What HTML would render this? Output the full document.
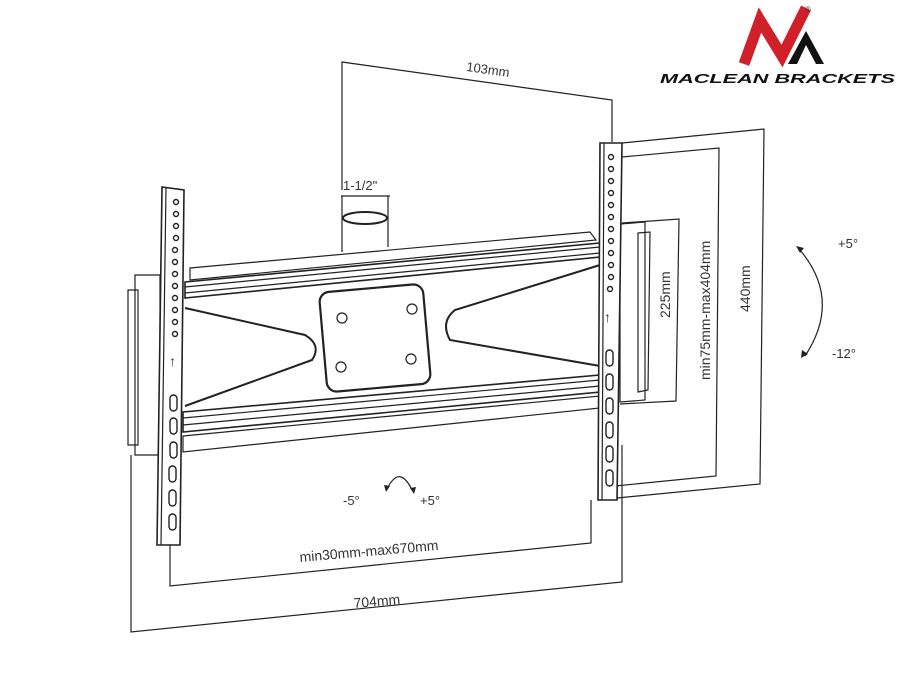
<!DOCTYPE html>
<html><head><style>
html,body{margin:0;padding:0;background:#fff;width:900px;height:675px;overflow:hidden}
svg{display:block}
text{font-family:"Liberation Sans",sans-serif;fill:#333}
</style></head><body>
<svg width="900" height="675" viewBox="0 0 900 675" xmlns="http://www.w3.org/2000/svg">
<g fill="none" stroke="#222" stroke-width="1.2">
<polyline points="342,190 342,62 612,100 612,142"/>
<polyline points="622,143 764,129 760,484 617,498"/>
<polyline points="622,157 719,148 716,476 615,486"/>
<polyline points="622,223 679,219 676,401 620,404"/>
<polyline points="170,545 170,586 591,543 591,500"/>
<polyline points="131,455 131,632 622,582 622,445"/>
<line x1="341" y1="196" x2="390" y2="196"/>
<line x1="342" y1="196" x2="342" y2="252"/>
<line x1="388" y1="196" x2="388" y2="247"/>
<ellipse cx="365" cy="218" rx="22" ry="6" stroke-width="2"/>
<path d="M135,275 L160,275 L160,455 L135,455 Z"/>
<path d="M128,290 L138,290 L138,445 L128,445 Z"/>
<path d="M620,224 L645,222 L645,400 L620,402 Z"/>
<path d="M638,233 L650,232 L648,390 L638,392 Z"/>
<path d="M190,268 L590,232 L596,240 L190,280 Z"/>
<path d="M185,282 L600,243 L600,257 L185,298 Z" stroke-width="1.6"/>
<line x1="185" y1="287" x2="600" y2="247"/>
<line x1="185" y1="293" x2="600" y2="253"/>
<path d="M183,412 L600,375 L600,392 L183,432 Z" stroke-width="1.6"/>
<line x1="183" y1="418" x2="600" y2="380"/>
<line x1="183" y1="425" x2="600" y2="386"/>
<path d="M183,436 L600,396 L600,408 L183,452 Z"/>
<path d="M185,308 L305,335 Q322,345 312,360 L185,406" stroke-width="2"/>
<path d="M600,265 L455,310 Q440,322 450,340 L600,366" stroke-width="2"/>
<rect x="323" y="288" width="104" height="100" rx="10" stroke-width="2.2" transform="rotate(-5 375 338)"/>
<circle cx="342" cy="318" r="5"/><circle cx="412" cy="309" r="5"/>
<circle cx="341" cy="367" r="5"/><circle cx="411" cy="359" r="5"/>
<path d="M162,187 L184,190 L180,545 L157,545 Z" fill="#fff" stroke-width="1.6"/>
<line x1="166" y1="188" x2="161" y2="545"/>
<path d="M600,143 L622,143 L617,500 L598,500 Z" fill="#fff" stroke-width="1.6"/>
<line x1="604" y1="143" x2="602" y2="500"/>
<path d="M800,250 Q842,300 805,356" />
<path d="M388,487 Q400,465 412,490"/>
</g>
<g fill="#222">
<path d="M796,246 l8,2 l-4,5z"/>
<path d="M801,358 l1,-8 l6,4z"/>
<path d="M386,492 l-2,-7 l6,1z"/>
<path d="M414,494 l-4,-6 l6,-1z"/>
</g>
<g fill="none" stroke="#222" stroke-width="1.4">
<circle cx="176" cy="202" r="2.5"/><circle cx="176" cy="214" r="2.5"/><circle cx="176" cy="226" r="2.5"/>
<circle cx="176" cy="238" r="2.5"/><circle cx="175" cy="250" r="2.5"/><circle cx="175" cy="262" r="2.5"/>
<circle cx="175" cy="274" r="2.5"/><circle cx="175" cy="286" r="2.5"/><circle cx="175" cy="298" r="2.5"/>
<circle cx="175" cy="310" r="2.5"/><circle cx="175" cy="322" r="2.5"/><circle cx="175" cy="334" r="2.5"/>
<rect x="170" y="395" width="7" height="16" rx="3.5"/><rect x="170" y="418" width="7" height="16" rx="3.5"/>
<rect x="170" y="442" width="7" height="16" rx="3.5"/><rect x="169" y="466" width="7" height="16" rx="3.5"/>
<rect x="169" y="490" width="7" height="16" rx="3.5"/><rect x="169" y="514" width="7" height="16" rx="3.5"/>
<circle cx="611" cy="157" r="2.5"/><circle cx="611" cy="169" r="2.5"/><circle cx="611" cy="181" r="2.5"/>
<circle cx="611" cy="193" r="2.5"/><circle cx="611" cy="205" r="2.5"/><circle cx="611" cy="217" r="2.5"/>
<circle cx="611" cy="229" r="2.5"/><circle cx="611" cy="241" r="2.5"/><circle cx="611" cy="253" r="2.5"/>
<circle cx="611" cy="265" r="2.5"/><circle cx="611" cy="277" r="2.5"/><circle cx="610" cy="289" r="2.5"/>
<rect x="606" y="350" width="7" height="16" rx="3.5"/><rect x="606" y="374" width="7" height="16" rx="3.5"/>
<rect x="606" y="398" width="7" height="16" rx="3.5"/><rect x="606" y="422" width="7" height="16" rx="3.5"/>
<rect x="606" y="446" width="7" height="16" rx="3.5"/><rect x="606" y="470" width="7" height="16" rx="3.5"/>
</g>
<text x="169" y="366" font-size="14" font-weight="bold">↑</text>
<text x="604" y="322" font-size="14" font-weight="bold">↑</text>
<text x="466" y="75" font-size="13" transform="rotate(8 495 72)">103mm</text>
<text x="343" y="190" font-size="13">1-1/2"</text>
<text font-size="14" transform="translate(670,318) rotate(-90)">225mm</text>
<text font-size="14" transform="translate(710,380) rotate(-90)">min75mm-max404mm</text>
<text font-size="14" transform="translate(750,312) rotate(-90)">440mm</text>
<text x="838" y="248" font-size="13">+5°</text>
<text x="832" y="358" font-size="13">-12°</text>
<text x="343" y="505" font-size="13">-5°</text>
<text x="420" y="505" font-size="13">+5°</text>
<text font-size="14" transform="translate(300,562) rotate(-5)">min30mm-max670mm</text>
<text font-size="14" transform="translate(354,608) rotate(-5)">704mm</text>
<!-- logo -->
<polyline points="744,64 760,20 782,56 806,8" fill="none" stroke="#d0202a" stroke-width="11" stroke-linejoin="miter"/>
<path d="M788,64 L806,31 L824,64 L816,64 L806,45 L797,64 Z" fill="#111"/>
<text x="805" y="12" font-size="8">®</text>
<text x="660" y="83" font-size="13" font-weight="bold" font-style="italic" style="fill:#111" textLength="235" lengthAdjust="spacingAndGlyphs">MACLEAN BRACKETS</text>
</svg>
</body></html>
